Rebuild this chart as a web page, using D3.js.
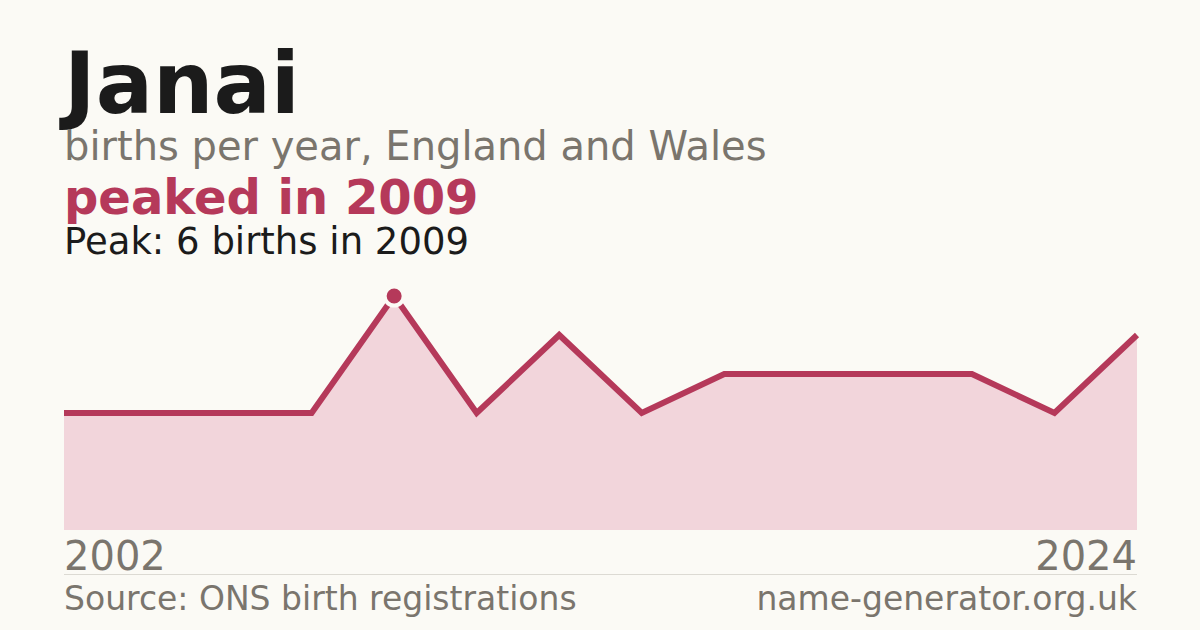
<!DOCTYPE html>
<html>
<head>
<meta charset="utf-8">
<script src="https://cdn.jsdelivr.net/npm/d3@7"></script>
<style>
  body { margin: 0; background: #fbfaf5; }
  svg { display: block; font-family: "DejaVu Sans", sans-serif; }
</style>
</head>
<body>
<div class="chart"></div>
<script>
// years that have a recorded count (fewer than 3 births are suppressed)
var years = [2002, 2003, 2005, 2007, 2009, 2011, 2013, 2014, 2016, 2018, 2019, 2021, 2023, 2024];
var births = [3, 3, 3, 3, 6, 3, 5, 3, 4, 4, 4, 4, 3, 5];
var tickLabels = ["2002", "2024"];
var peakYear = 2009;

var width = 1200, height = 630;
var plotLeft = 64, plotRight = 1137, plotTop = 296, plotBottom = 530;

var s = d3.select(".chart").append("svg")
    .attr("width", width)
    .attr("height", height);

s.append("rect")
    .attr("width", width)
    .attr("height", height)
    .style("fill", "#fbfaf5");

var x = d3.scalePoint()
    .domain(years)
    .range([plotLeft, plotRight]);

var y = d3.scaleLinear()
    .domain([0, d3.max(births)])
    .range([plotBottom, plotTop]);

var pts = years.map(function (yr, i) { return {year: yr, n: births[i]}; });

var area = d3.area()
    .x(function (d) { return x(d.year); })
    .y0(plotBottom)
    .y1(function (d) { return y(d.n); });

var line = d3.line()
    .x(function (d) { return x(d.year); })
    .y(function (d) { return y(d.n); });

s.append("path")
    .datum(pts)
    .attr("d", area)
    .style("fill", "#f2d5db");

s.append("path")
    .datum(pts)
    .attr("d", line)
    .style("fill", "none")
    .style("stroke", "#b5395a")
    .style("stroke-width", "6px")
    .style("stroke-linejoin", "miter");

var peak = pts.filter(function (d) { return d.year == peakYear; })[0];
s.append("circle")
    .attr("cx", x(peak.year))
    .attr("cy", y(peak.n))
    .attr("r", 9.5)
    .style("fill", "#b5395a")
    .style("stroke", "#fbfaf5")
    .style("stroke-width", "4px");

// titles
s.append("text").text("Janai")
    .attr("x", plotLeft).attr("y", 113)
    .style("font-size", "85px").style("font-weight", "bold")
    .style("fill", "#1b1b1b");
s.append("text").text("births per year, England and Wales")
    .attr("x", plotLeft).attr("y", 160)
    .style("font-size", "40px")
    .style("fill", "#7a756d");
s.append("text").text("peaked in " + peakYear)
    .attr("x", plotLeft).attr("y", 214)
    .style("font-size", "48px").style("font-weight", "bold")
    .style("fill", "#b5395a");
s.append("text").text("Peak: " + peak.n + " births in " + peakYear)
    .attr("x", plotLeft).attr("y", 254)
    .style("font-size", "37px")
    .style("fill", "#1b1b1b");

// axis end labels
s.append("text").text(tickLabels[0])
    .attr("x", plotLeft).attr("y", 570)
    .style("font-size", "40px")
    .style("fill", "#7a756d");
s.append("text").text(tickLabels[1])
    .attr("x", plotRight).attr("y", 570)
    .attr("text-anchor", "end")
    .style("font-size", "40px")
    .style("fill", "#7a756d");

s.append("line")
    .attr("x1", plotLeft).attr("x2", plotRight)
    .attr("y1", 574.5).attr("y2", 574.5)
    .style("stroke", "#dcdad3")
    .style("stroke-width", "1px");

// footer
s.append("text").text("Source: ONS birth registrations")
    .attr("x", plotLeft).attr("y", 610)
    .style("font-size", "33px")
    .style("fill", "#7a756d");
s.append("text").text("name-generator.org.uk")
    .attr("x", plotRight).attr("y", 610)
    .attr("text-anchor", "end")
    .style("font-size", "33px")
    .style("fill", "#7a756d");
</script>
</body>
</html>
